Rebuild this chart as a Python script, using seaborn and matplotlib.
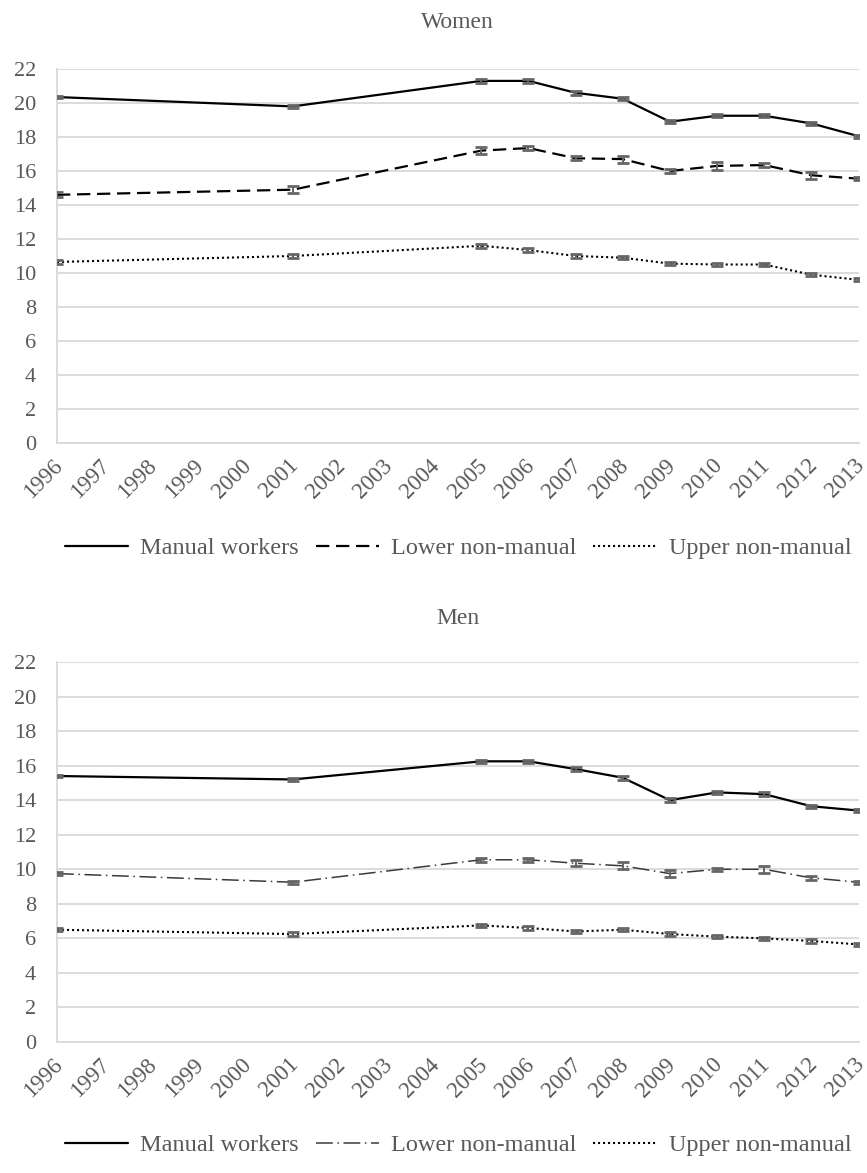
import matplotlib
matplotlib.use("Agg")
import matplotlib.pyplot as plt
import matplotlib.transforms as mtransforms
import seaborn as sns
import numpy as np
import pandas as pd

years = [1996, 2001, 2005, 2006, 2007, 2008, 2009, 2010, 2011, 2012, 2013]
tick_years = list(range(1996, 2014))
yticks = list(range(0, 23, 2))
series_names = ["Manual workers", "Lower non-manual", "Upper non-manual"]
panel_titles = ["Women", "Men"]

women_manual = [20.35, 19.8, 21.3, 21.3, 20.6, 20.25, 18.9, 19.25, 19.25, 18.8, 18.05]
women_lower = [14.6, 14.9, 17.2, 17.35, 16.75, 16.7, 16.0, 16.3, 16.35, 15.75, 15.55]
women_upper = [10.65, 11.0, 11.6, 11.35, 11.0, 10.9, 10.55, 10.5, 10.5, 9.9, 9.6]
women_manual_err = [0.08, 0.1, 0.1, 0.1, 0.1, 0.1, 0.1, 0.1, 0.1, 0.1, 0.08]
women_lower_err = [0.15, 0.2, 0.2, 0.1, 0.12, 0.2, 0.12, 0.25, 0.12, 0.2, 0.1]
women_upper_err = [0.1, 0.1, 0.1, 0.1, 0.1, 0.1, 0.08, 0.1, 0.1, 0.1, 0.08]

men_manual = [15.4, 15.2, 16.25, 16.25, 15.8, 15.3, 14.0, 14.45, 14.35, 13.65, 13.4]
men_lower = [9.75, 9.25, 10.55, 10.55, 10.35, 10.2, 9.75, 10.0, 10.0, 9.5, 9.25]
men_upper = [6.5, 6.25, 6.75, 6.6, 6.4, 6.5, 6.25, 6.1, 6.0, 5.85, 5.65]
men_manual_err = [0.08, 0.1, 0.1, 0.1, 0.1, 0.12, 0.1, 0.1, 0.1, 0.1, 0.1]
men_lower_err = [0.08, 0.1, 0.1, 0.1, 0.18, 0.2, 0.2, 0.1, 0.2, 0.1, 0.1]
men_upper_err = [0.08, 0.1, 0.1, 0.1, 0.1, 0.1, 0.1, 0.1, 0.1, 0.1, 0.1]

sns.set_style("white")
plt.rcParams["font.family"] = ["Liberation Serif", "DejaVu Serif"]
TXT = "#595959"
GRID = "#d9d9d9"

styles_women = [
    dict(color="black", lw=1.6, linestyle="-"),
    dict(color="black", lw=1.6, linestyle=(0, (6, 3))),
    dict(color="black", lw=1.5, linestyle=(0, (1, 1.4))),
]
styles_men = [
    dict(color="black", lw=1.6, linestyle="-"),
    dict(color="#3a3a3a", lw=1.1, linestyle=(0, (11, 3, 1, 3))),
    dict(color="black", lw=1.5, linestyle=(0, (1, 1.4))),
]

fig = plt.figure(figsize=(8.67, 11.73), dpi=100)
W, H = 867, 1173
def axpos(left, right, top, bottom):
    return [left / W, 1 - bottom / H, (right - left) / W, (bottom - top) / H]

ax1 = fig.add_axes(axpos(57, 858.5, 69, 443))
ax2 = fig.add_axes(axpos(57, 858.5, 662, 1042))

panels = [
    (ax1, "Women", [women_manual, women_lower, women_upper],
     [women_manual_err, women_lower_err, women_upper_err], styles_women, 22, 548),
    (ax2, "Men", [men_manual, men_lower, men_upper],
     [men_manual_err, men_lower_err, men_upper_err], styles_men, 618, 1145),
]

shift = mtransforms.ScaledTranslation(2.5 / 100, 0, fig.dpi_scale_trans)

for ax, title, vals, errs, styles, title_y, leg_y in panels:
    for name, v, e, st in zip(series_names, vals, errs, styles):
        df = pd.DataFrame({"year": years, "value": v})
        sns.lineplot(data=df, x="year", y="value", ax=ax, label=name,
                     color=st["color"], lw=st["lw"], linestyle=st["linestyle"],
                     zorder=3)
        ax.errorbar(years, v, yerr=e, fmt="none", ecolor="#666666",
                    elinewidth=1.4, capsize=4.5, capthick=2.0, zorder=4)
    ax.set_xlim(1996, 2013)
    ax.set_ylim(0, 22)
    ax.set_xticks(tick_years)
    ax.set_yticks(yticks)
    ax.set_xlabel("")
    ax.set_ylabel("")
    ax.grid(axis="y", color=GRID, lw=1.3)
    ax.grid(axis="x", visible=False)
    ax.set_axisbelow(True)
    for s in ["top", "right"]:
        ax.spines[s].set_visible(False)
    for s in ["left", "bottom"]:
        ax.spines[s].set_color(GRID)
        ax.spines[s].set_linewidth(1.3)
    ax.tick_params(axis="x", direction="out", length=6, width=1.2, color=GRID,
                   labelcolor=TXT, pad=8)
    ax.tick_params(axis="y", direction="out", length=6, width=1.2, color=GRID,
                   labelcolor=TXT, pad=9)
    ax.set_xticklabels([str(y) for y in tick_years], rotation=45, ha="right",
                       va="center", rotation_mode="anchor", fontsize=16.5)
    ax.set_yticklabels([str(t) for t in yticks], fontsize=16)
    for lbl in ax.get_xticklabels():
        lbl.set_transform(lbl.get_transform() + shift)
    fig.text((57 + 858.5) / 2 / W, 1 - title_y / H, title, ha="center",
             va="center", fontsize=17, color=TXT)
    handles, labels = ax.get_legend_handles_labels()
    if ax.get_legend():
        ax.get_legend().remove()
    fig.legend(handles, labels, loc="center", bbox_to_anchor=(458 / W, 1 - leg_y / H),
               ncol=3, frameon=False, fontsize=17.5, labelcolor=TXT,
               handlelength=2.6, handletextpad=0.5, columnspacing=0.7)

fig.savefig("out.png", dpi=100)
